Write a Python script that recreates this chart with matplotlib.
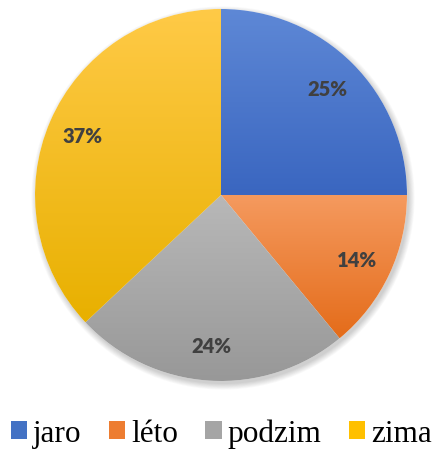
import numpy as np
import matplotlib.pyplot as plt
from matplotlib.colors import LinearSegmentedColormap
from matplotlib.patches import Patch, Circle

# seasons share
labels = ["jaro", "léto", "podzim", "zima"]
values = [25, 14, 24, 37]
top_colors = ["#5E88D6", "#F59A5F", "#B8B8B8", "#FFCA47"]
bottom_colors = ["#3A66C0", "#E46C1A", "#989898", "#E8B000"]
legend_colors = ["#4472C4", "#ED7D31", "#A5A5A5", "#FFC000"]

W, H = 435, 452
fig = plt.figure(figsize=(W / 100, H / 100), dpi=100)
ax = fig.add_axes([0, 0, 1, 1])
ax.set_xlim(0, W)
ax.set_ylim(0, H)
ax.set_aspect("equal")
ax.axis("off")

cx, cy, r = 221, H - 196, 186

# soft shadow behind the pie
for i in range(8):
    ax.add_patch(Circle((cx + 2, cy - 3), r + i * 0.8, color="black",
                        alpha=0.025, lw=0, zorder=0))

wedges, texts = ax.pie(
    values, center=(cx, cy), radius=r, startangle=90, counterclock=False,
    labels=[f"{v}%" for v in values], labeldistance=0.81,
    textprops=dict(color="#404040", fontsize=14.5, fontweight="heavy",
                   family=["Lato", "DejaVu Sans"], ha="center", va="center"),
    wedgeprops=dict(linewidth=0),
    frame=True,
)

# gradient fill per wedge (light top, dark bottom)
grad = np.linspace(0, 1, 256).reshape(-1, 1)
for w, c0, c1 in zip(wedges, top_colors, bottom_colors):
    w.set_facecolor("white")
    w.set_zorder(1)
    bb = w.get_path().get_extents()
    cmap = LinearSegmentedColormap.from_list("g", [c0, c1])
    im = ax.imshow(grad, cmap=cmap, aspect="auto",
                   extent=(bb.x0, bb.x1, bb.y0, bb.y1), zorder=2)
    im.set_clip_path(w)
for t in texts:
    t.set_zorder(5)

ax.set_xlim(0, W)
ax.set_ylim(0, H)
ax.axis("off")

handles = [Patch(facecolor=c, edgecolor="none") for c in legend_colors]
ax.legend(handles, labels, loc="lower center", bbox_to_anchor=(0.509, -0.035),
          ncol=4, frameon=False, prop=dict(family="Liberation Serif", size=22.5),
          handlelength=0.52, handleheight=0.52, handletextpad=0.2,
          columnspacing=0.87, borderaxespad=0.2)

fig.savefig("out.png", dpi=100)
